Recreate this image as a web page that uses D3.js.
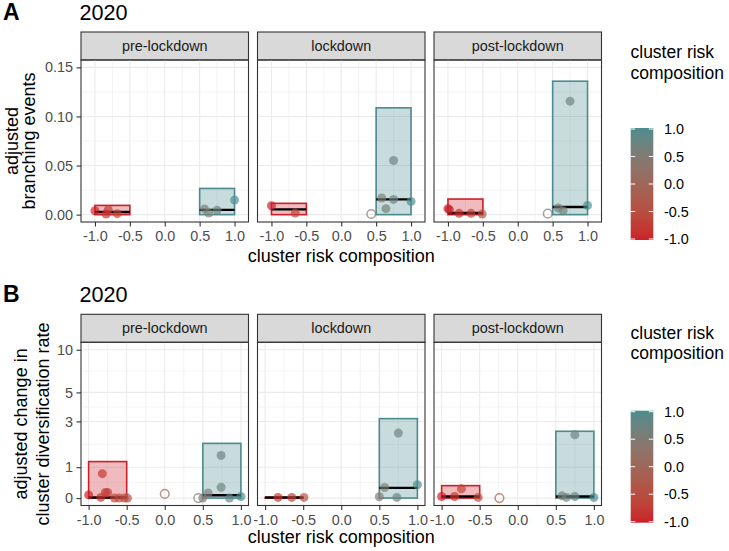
<!DOCTYPE html>
<html><head><meta charset="utf-8">
<script src="https://cdn.jsdelivr.net/npm/d3@7"></script>
<style>body{margin:0;background:#fff}svg{display:block;font-family:"Liberation Sans",Arial,Helvetica,sans-serif}</style>
</head><body><svg id="c" width="729" height="551"></svg>
<script>
// ---------------- data ----------------
const facets = ["pre-lockdown", "lockdown", "post-lockdown"];
const riskTicks = [-1, -0.5, 0, 0.5, 1];
const riskMinor = [-0.75, -0.25, 0.25, 0.75];
const branchTicks = [0, 0.05, 0.10, 0.15];
const branchMinor = [0.025, 0.075, 0.125];
const divTicks = [0, 1, 3, 5, 10];
const legendTicks = [1, 0.5, 0, -0.5, -1];

// branching events: [facet, risk, value, open]
const branchPoints = [
  [0, -1.0, 0.0040, 0], [0, -0.84, 0.0007, 0], [0, -0.81, 0.0050, 0], [0, -0.68, 0.0010, 0],
  [0, 0.57, 0.0058, 0], [0, 0.63, 0.0017, 0], [0, 0.75, 0.0044, 0], [0, 1.0, 0.0149, 0],
  [1, -1.0, 0.0091, 0], [1, -0.66, 0.0017, 0],
  [1, 0.75, 0.0551, 0], [1, 0.58, 0.0169, 0], [1, 0.75, 0.0155, 0], [1, 0.64, 0.0061, 0], [1, 1.0, 0.0135, 0],
  [1, 0.43, 0.0007, 1],
  [2, -1.0, 0.0061, 0], [2, -0.98, 0.0050, 0], [2, -0.84, 0.0013, 0], [2, -0.67, 0.0013, 0], [2, -0.51, 0.0007, 0],
  [2, 0.75, 0.1156, 0], [2, 0.58, 0.0068, 0], [2, 0.65, 0.0040, 0], [2, 1.0, 0.0094, 0],
  [2, 0.43, 0.0010, 1]
];
// boxes: [facet, x0, x1, ymin, ymax, median, colourRisk]
const branchBoxes = [
  [0, -1, -0.5, 0, 0.0094, 0.0027, -1], [0, 0.5, 1, 0, 0.0267, 0.0048, 1],
  [1, -1, -0.5, 0, 0.0115, 0.0054, -1], [1, 0.5, 1, 0, 0.1088, 0.0155, 1],
  [2, -1, -0.5, 0, 0.0159, 0.0017, -1], [2, 0.5, 1, 0, 0.1359, 0.0078, 1]
];
// diversification: [facet, risk, value, open]
const divPoints = [
  [0, -1.0, 0.10, 0], [0, -0.82, 0.78, 0], [0, -0.84, 0.02, 0], [0, -0.78, 0.175, 0], [0, -0.75, 0.175, 0],
  [0, -0.66, 0.0, 0], [0, -0.60, 0.0, 0], [0, -0.53, 0.0, 0], [0, -0.49, 0.0, 0],
  [0, 0.0, 0.13, 1], [0, 0.44, 0.0, 1],
  [0, 0.74, 1.43, 0], [0, 0.74, 0.34, 0], [0, 0.50, 0.0, 0], [0, 0.57, 0.16, 0], [0, 0.85, 0.0, 0], [0, 1.0, 0.05, 0],
  [1, -0.83, 0.02, 0], [1, -0.65, 0.02, 0], [1, -0.49, 0.02, 0],
  [1, 0.75, 2.39, 0], [1, 0.57, 0.33, 0], [1, 1.0, 0.42, 0], [1, 0.50, 0.04, 0], [1, 0.73, 0.02, 0],
  [2, -1.0, 0.05, 0], [2, -0.74, 0.29, 0], [2, -0.83, 0.05, 0], [2, -0.52, 0.02, 0],
  [2, -0.24, 0.0, 1],
  [2, 0.75, 2.31, 0], [2, 0.58, 0.07, 0], [2, 0.64, 0.02, 0], [2, 0.75, 0.05, 0], [2, 1.0, 0.02, 0]
];
const divBoxes = [
  [0, -1, -0.5, 0, 1.20, 0.02, -1], [0, 0.5, 1, 0, 1.92, 0.09, 1],
  [1, -1, -0.5, 0, 0.02, 0.02, -1], [1, 0.5, 1, 0, 3.16, 0.32, 1],
  [2, -1, -0.5, 0, 0.39, 0.05, -1], [2, 0.5, 1, 0, 2.48, 0.05, 1]
];

// ---------------- setup ----------------
const svg = d3.select("#c");
const colour = d3.scaleLinear().domain([-1, 1]).range(["#CC1F28", "#4B8C8E"]).interpolate(d3.interpolateLab);
const panelX0 = [81, 257.5, 434], panelW = 167.5;
const pseudo = v => Math.asinh(v / 2);   // pseudo-log (sigma = 1)

function drawRow(opt) {
  const g = svg.append("g");
  const yT = opt.yT;
  facets.forEach((f, i) => {
    const x = d3.scaleLinear().domain(opt.xDomain).range([panelX0[i], panelX0[i] + panelW]);
    const y = opt.y;
    const pg = g.append("g");
    // strip
    pg.append("rect").attr("x", panelX0[i]).attr("y", opt.stripTop).attr("width", panelW)
      .attr("height", opt.panelTop - opt.stripTop).attr("fill", "#D9D9D9").attr("stroke", "#333").attr("stroke-width", 1.1);
    pg.append("text").attr("x", panelX0[i] + panelW / 2).attr("y", (opt.stripTop + opt.panelTop) / 2)
      .attr("dy", "0.35em").attr("text-anchor", "middle").attr("font-size", 14.4).attr("fill", "#1A1A1A").text(f);
    // grid
    const gx = pg.append("g");
    riskMinor.forEach(v => gx.append("line").attr("x1", x(v)).attr("x2", x(v)).attr("y1", opt.panelTop).attr("y2", opt.panelBottom).attr("stroke", "#EBEBEB").attr("stroke-width", 0.6));
    opt.yMinor.forEach(v => gx.append("line").attr("x1", panelX0[i]).attr("x2", panelX0[i] + panelW).attr("y1", y(yT(v))).attr("y2", y(yT(v))).attr("stroke", "#EBEBEB").attr("stroke-width", 0.6));
    riskTicks.forEach(v => gx.append("line").attr("x1", x(v)).attr("x2", x(v)).attr("y1", opt.panelTop).attr("y2", opt.panelBottom).attr("stroke", "#EBEBEB").attr("stroke-width", 1.1));
    opt.yTicks.forEach(v => gx.append("line").attr("x1", panelX0[i]).attr("x2", panelX0[i] + panelW).attr("y1", y(yT(v))).attr("y2", y(yT(v))).attr("stroke", "#EBEBEB").attr("stroke-width", 1.1));
    // boxes
    opt.boxes.filter(b => b[0] === i).forEach(b => {
      pg.append("rect").attr("x", x(b[1])).attr("width", x(b[2]) - x(b[1]))
        .attr("y", y(yT(b[4]))).attr("height", Math.max(0.5, y(yT(b[3])) - y(yT(b[4]))))
        .attr("fill", colour(b[6])).attr("fill-opacity", 0.3)
        .attr("stroke", colour(b[6])).attr("stroke-width", 1.6);
    });
    opt.boxes.filter(b => b[0] === i).forEach(b => {
      pg.append("line").attr("x1", x(b[1])).attr("x2", x(b[2])).attr("y1", y(yT(b[5]))).attr("y2", y(yT(b[5])))
        .attr("stroke", "#000").attr("stroke-width", 2.4);
    });
    // points
    opt.points.filter(p => p[0] === i).forEach(p => {
      const c = pg.append("circle").attr("cx", x(p[1])).attr("cy", y(yT(p[2])));
      if (p[3]) c.attr("r", 4.3).attr("fill", "none").attr("stroke", colour(p[1])).attr("stroke-opacity", 0.7).attr("stroke-width", 1.5);
      else c.attr("r", 4.5).attr("fill", colour(p[1])).attr("fill-opacity", 0.68);
    });
    // border
    pg.append("rect").attr("x", panelX0[i]).attr("y", opt.panelTop).attr("width", panelW)
      .attr("height", opt.panelBottom - opt.panelTop).attr("fill", "none").attr("stroke", "#333").attr("stroke-width", 1.1);
    // x axis
    const ax = pg.append("g").attr("transform", `translate(0,${opt.panelBottom})`)
      .call(d3.axisBottom(x).tickValues(riskTicks).tickFormat(d3.format(".1f")).tickSize(4.5).tickPadding(4.5));
    ax.select(".domain").remove();
    ax.selectAll("line").attr("stroke", "#333").attr("stroke-width", 1.1);
    ax.selectAll("text").attr("font-size", 14.4).attr("fill", "#4D4D4D").attr("font-family", null)
      .text(d => d3.format(".1f")(d).replace("−", "-"));
    // y axis only for first panel
    if (i === 0) {
      const ay = pg.append("g").attr("transform", `translate(${panelX0[0]},0)`)
        .call(d3.axisLeft(y).tickValues(opt.yTicks.map(yT)).tickSize(4.5).tickPadding(3.6)
          .tickFormat((d, k) => opt.yLabels[k]));
      ay.select(".domain").remove();
      ay.selectAll("line").attr("stroke", "#333").attr("stroke-width", 1.1);
      ay.selectAll("text").attr("font-size", 14.4).attr("fill", "#4D4D4D").attr("font-family", null);
    }
  });
  // titles
  g.append("text").attr("x", 3).attr("y", opt.tagY).attr("font-size", 23).attr("font-weight", "bold").text(opt.tag);
  g.append("text").attr("x", 79.5).attr("y", opt.tagY).attr("font-size", 21.6).text("2020");
  const mid = (opt.panelTop + opt.panelBottom) / 2;
  opt.yTitle.forEach((t, k) => {
    g.append("text").attr("transform", `translate(${opt.yTitleX[k]},${mid}) rotate(-90)`)
      .attr("text-anchor", "middle").attr("font-size", 18).text(t);
  });
  g.append("text").attr("x", (panelX0[0] + panelX0[2] + panelW) / 2).attr("y", opt.xTitleY)
    .attr("text-anchor", "middle").attr("font-size", 18).text("cluster risk composition");
  // legend
  const lg = g.append("g");
  lg.append("text").attr("x", 630.5).attr("y", opt.legTitleY).attr("font-size", 17.5).text("cluster risk");
  lg.append("text").attr("x", 630.5).attr("y", opt.legTitleY + 20.5).attr("font-size", 17.5).text("composition");
  const gid = "grad" + opt.tag;
  const grad = svg.append("defs").append("linearGradient").attr("id", gid).attr("x1", 0).attr("x2", 0).attr("y1", 0).attr("y2", 1);
  d3.range(0, 1.0001, 0.05).forEach(t => grad.append("stop").attr("offset", t).attr("stop-color", colour(1 - 2 * t)));
  const ly = d3.scaleLinear().domain([-1, 1]).range([opt.barBottom - 1, opt.barTop + 1]);
  lg.append("rect").attr("x", 630.7).attr("y", opt.barTop).attr("width", 22.6).attr("height", opt.barBottom - opt.barTop).attr("fill", `url(#${gid})`);
  legendTicks.forEach(v => {
    lg.append("line").attr("x1", 630.7).attr("x2", 635.2).attr("y1", ly(v)).attr("y2", ly(v)).attr("stroke", "#fff").attr("stroke-width", 1);
    lg.append("line").attr("x1", 648.8).attr("x2", 653.3).attr("y1", ly(v)).attr("y2", ly(v)).attr("stroke", "#fff").attr("stroke-width", 1);
    lg.append("text").attr("x", 664).attr("y", ly(v)).attr("dy", "0.35em").attr("font-size", 14.4).attr("fill", "#000")
      .text(d3.format(".1f")(v).replace("−", "-"));
  });
}

const yA = d3.scaleLinear().domain([-0.0075, 0.1575]).range([222, 60]);
drawRow({
  tag: "A", tagY: 20, stripTop: 32, panelTop: 60, panelBottom: 222,
  xDomain: [-1.2, 1.2], y: yA, yT: v => v,
  yTicks: branchTicks, yMinor: branchMinor, yLabels: branchTicks.map(d3.format(".2f")),
  points: branchPoints, boxes: branchBoxes,
  yTitle: ["adjusted", "branching events"], yTitleX: [18, 35],
  xTitleY: 261.5, legTitleY: 58, barTop: 128, barBottom: 240
});

const T = pseudo(10);
const yB = d3.scaleLinear().domain([-0.05 * T, 1.05 * T]).range([505.5, 342.3]);
drawRow({
  tag: "B", tagY: 302, stripTop: 314.3, panelTop: 342.3, panelBottom: 505.5,
  xDomain: [-1.1, 1.1], y: yB, yT: pseudo,
  yTicks: divTicks, yMinor: [0.2406, 0.838, 1.421, 1.9798].map(t => 2 * Math.sinh(t)),
  yLabels: divTicks.map(String),
  points: divPoints, boxes: divBoxes,
  yTitle: ["adjusted change in", "cluster diversification rate"], yTitleX: [27, 48.5],
  xTitleY: 543, legTitleY: 338.5, barTop: 410.7, barBottom: 522.7
});
</script></body></html>
